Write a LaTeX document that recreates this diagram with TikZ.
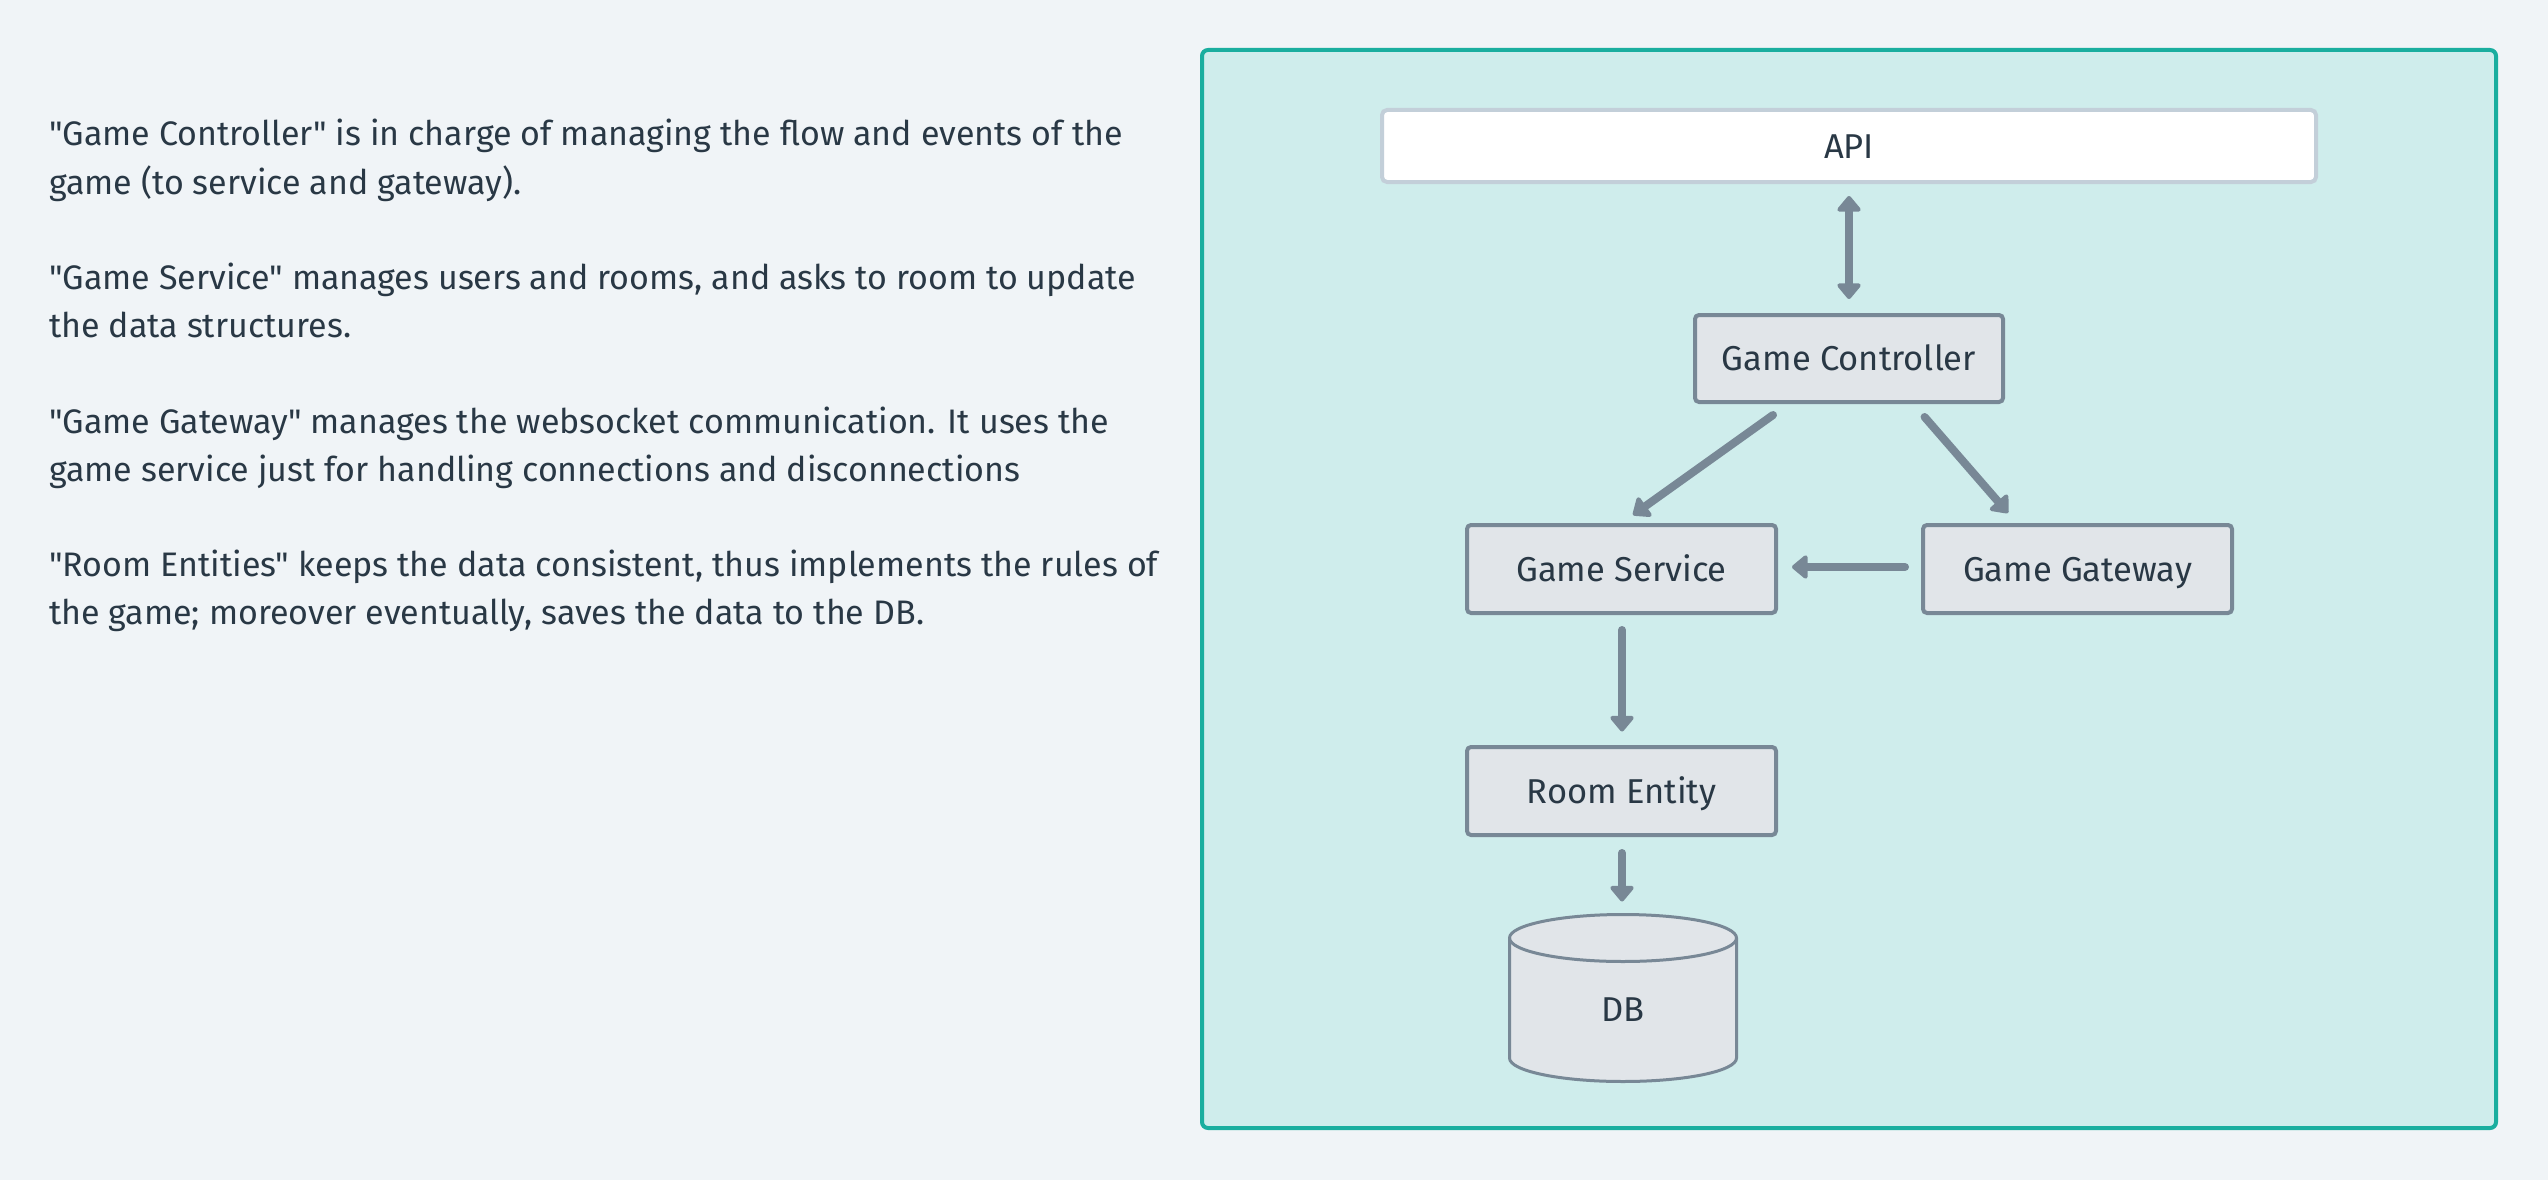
\documentclass[tikz,border=0pt]{standalone}
\usepackage{fontspec}
\setmainfont{Fira Sans}[Ligatures=TeXOff]
\usetikzlibrary{arrows.meta,calc}
\definecolor{pagebg}{HTML}{F0F4F7}
\definecolor{framefill}{HTML}{CFEDEC}
\definecolor{frameline}{HTML}{1AAE9F}
\definecolor{arrowgray}{HTML}{788896}
\definecolor{boxfill}{HTML}{E1E5E9}
\definecolor{apiborder}{HTML}{C3CFD9}
\definecolor{ink}{HTML}{293845}
\begin{document}
\begin{tikzpicture}[x=1pt,y=-1pt,
  font=\fontsize{34}{48}\selectfont, text=ink,
  box/.style={draw=arrowgray, fill=boxfill, line width=4pt, rounded corners=4pt,
    minimum width=309pt, minimum height=88pt, inner sep=0pt, outer sep=0pt,
    text height=24pt, text depth=0pt, font=\fontsize{34.5}{48}\selectfont},
  tip/.tip={Triangle[width=27pt,length=17pt,round]},
  conn/.style={draw=arrowgray, line width=8pt, line cap=round, -tip},
  para/.style={anchor=base west, inner sep=0pt, outer sep=0pt},
  ]
\fill[pagebg] (0,0) rectangle (2548,1180);
\useasboundingbox (0,0) rectangle (2548,1180);

% left text
\node[para] (t1) at (49,146) {"Game Controller" is in charge of managing the flow and events of the};
\node[para] (t2) at (49,194) {game (to service and gateway).};
\node[para] (t3) at (49,289) {"Game Service" manages users and rooms, and asks to room to update};
\node[para] (t4) at (49,337) {the data structures.};
\node[para] (t5) at (49,433) {"Game Gateway" manages the websocket communication. It uses the};
\node[para] (t6) at (49,481) {game service just for handling connections and disconnections};
\node[para] (t7) at (49,576) {"Room Entities" keeps the data consistent, thus implements the rules of};
\node[para] (t8) at (49,624) {the game; moreover eventually, saves the data to the DB.};

% frame
\node[draw=frameline, fill=framefill, line width=4pt, rounded corners=6pt,
  minimum width=1294pt, minimum height=1078pt, inner sep=0pt, outer sep=0pt] (frame) at (1849,589) {};

% boxes
\node[box, draw=apiborder, fill=white, rounded corners=5pt,
  minimum width=934pt, minimum height=72pt] (api) at (1849,146) {API};
\node[box, minimum width=308pt, minimum height=87pt] (ctrl) at (1849,358.5) {Game Controller};
\node[box] (svc) at (1621.5,569) {Game Service};
\node[box] (gw) at (2077.5,569) {Game Gateway};
\node[box] (room) at (1621.5,791) {Room Entity};

% database cylinder
\coordinate (dbc) at (1623,1010);
\coordinate (dbt) at ($(dbc)+(0,-72)$);
\coordinate (dbb) at ($(dbc)+(0,48)$);
\coordinate (dbtop) at ($(dbt)+(0,-23.5)$);
\filldraw[fill=boxfill, draw=arrowgray, line width=3pt]
  ($(dbt)+(-113.5,0)$) -- ($(dbb)+(-113.5,0)$)
  arc[start angle=180, end angle=360, x radius=113.5pt, y radius=23.5pt]
  -- ($(dbt)+(113.5,0)$)
  arc[start angle=0, end angle=180, x radius=113.5pt, y radius=23.5pt] -- cycle;
\draw[arrowgray, line width=3pt] ($(dbt)+(-113.5,0)$)
  arc[start angle=180, end angle=360, x radius=113.5pt, y radius=23.5pt];
\node[inner sep=0pt, font=\fontsize{34.5}{48}\selectfont] (db) at (dbc) {DB};

% connectors
\draw[conn, tip-tip] ($(api.south)+(0,14)$) -- ($(ctrl.north)+(0,-16)$);
\draw[conn] ($(ctrl.south)+(-76,13)$) -- ($(svc.north)+(11.5,-10)$);
\draw[conn] ($(ctrl.south)+(75.6,15)$) -- ($(gw.north)+(-69.5,-12)$);
\draw[conn] ($(gw.west)+(-18,-2)$) -- ($(svc.east)+(16,-2)$);
\draw[conn] ($(svc.south)+(0.5,17)$) -- ($(room.north)+(0.5,-15.5)$);
\draw[conn] ($(room.south)+(0.5,18)$) -- ($(dbtop)+(-1,-13)$);
\end{tikzpicture}
\end{document}
